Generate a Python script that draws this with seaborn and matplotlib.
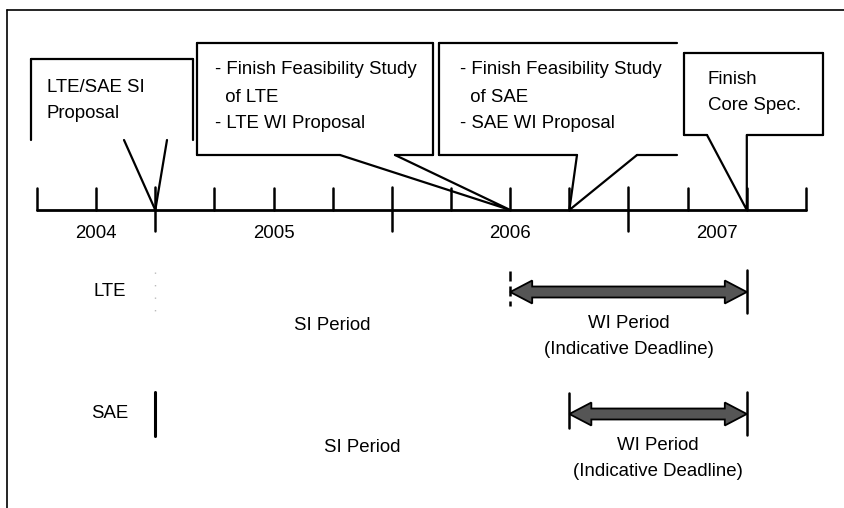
import numpy as np
import matplotlib
matplotlib.use("Agg")
import matplotlib.pyplot as plt
import seaborn as sns

sns.set_style("white")
plt.rcParams['font.family'] = ['Liberation Sans', 'DejaVu Sans']
plt.rcParams['text.color'] = 'black'

# --- data ---
year_labels = [2004, 2005, 2006, 2007]
axis_start, axis_end = 2004.5, 2007.75          # visible timeline (quarters)
event_dates = [2005.0, 2006.5, 2006.75, 2007.5]  # callout pointer tips
event_texts = [
    ["LTE/SAE SI", "Proposal"],
    ["- Finish Feasibility Study", "  of LTE", "- LTE WI Proposal"],
    ["- Finish Feasibility Study", "  of SAE", "- SAE WI Proposal"],
    ["Finish", "Core Spec."],
]
rows = ["LTE", "SAE"]
si_start = [2005.0, 2005.0]
wi_start = [2006.5, 2006.75]
wi_end = [2007.5, 2007.5]

# --- layout (pixel space, y grows downward) ---
W, H = 845, 508
PPY = 236.6            # pixels per year
X0PX = 37              # pixel x of axis_start
def px(xp):
    return axis_start + (xp - X0PX) / PPY

AXIS_Y = 210
ROW_Y = [292, 414]
FS = 13.4

fig = plt.figure(figsize=(W / 100, H / 100), dpi=100)
ax = fig.add_axes([0, 0, 1, 1])
ax.set_xlim(px(0), px(W))
ax.set_ylim(H, 0)
ax.axis('off')

K = 'black'
LW = 1.6

# outer frame (top + left)
ax.plot([px(7), px(W)], [10, 10], color=K, lw=1.2)
ax.plot([px(7), px(7)], [10, H], color=K, lw=1.2)

# timeline axis
ax.plot([axis_start, axis_end], [AXIS_Y, AXIS_Y], color=K, lw=2.0)
quarters = np.arange(axis_start, axis_end + 0.01, 0.25)
for q in quarters:
    if abs(q - round(q)) < 1e-6:
        ax.plot([q, q], [187, 231], color=K, lw=1.8)
    else:
        ax.plot([q, q], [188, AXIS_Y], color=K, lw=1.8)

for yr in year_labels:
    lo, hi = max(yr, axis_start), min(yr + 1, axis_end)
    ax.text((lo + hi) / 2, 233, str(yr), ha='center', va='center', fontsize=FS)

# callouts: box (x0, x1, y0, y1) px, pointer base px, text x px, sides
callouts = [
    dict(box=(31, 193, 59, 140), base=(124, 167), tx=47, ty=88, step=25,
         sides=('top', 'left', 'right')),
    dict(box=(197, 433, 43, 155), base=(340, 395), tx=215, ty=70, step=27,
         sides=('top', 'left', 'right', 'bottom')),
    dict(box=(439, 677, 43, 155), base=(577, 637), tx=460, ty=70, step=27,
         sides=('top', 'left', 'bottom')),
    dict(box=(684, 823, 53, 135), base=(707, None), tx=708, ty=80, step=25,
         sides=('top', 'left', 'right', 'bottom')),
]

for c, tip, lines in zip(callouts, event_dates, event_texts):
    x0, x1, y0, y1 = c['box']
    b0, b1 = c['base']
    bx0 = px(b0)
    bx1 = tip if b1 is None else px(b1)
    if 'top' in c['sides']:
        ax.plot([px(x0), px(x1)], [y0, y0], color=K, lw=LW)
    if 'left' in c['sides']:
        ax.plot([px(x0), px(x0)], [y0, y1], color=K, lw=LW)
    if 'right' in c['sides']:
        ax.plot([px(x1), px(x1)], [y0, y1], color=K, lw=LW)
    if 'bottom' in c['sides']:
        ax.plot([px(x0), bx0], [y1, y1], color=K, lw=LW)
        ax.plot([bx1, px(x1)], [y1, y1], color=K, lw=LW)
    ax.plot([bx0, tip, bx1], [y1, AXIS_Y, y1], color=K, lw=LW)
    for i, line in enumerate(lines):
        ax.text(px(c['tx']), c['ty'] + i * c['step'], line,
                ha='left', va='center', fontsize=FS)

# rows
hl = 22 / PPY
hw, sw = 11.5, 5.5
for i, name in enumerate(rows):
    y = ROW_Y[i]
    ax.text(px(110), y, name, ha='center', va='center', fontsize=FS)
    # SI start marker
    if i == 0:
        ax.plot([si_start[i]] * 2, [y - 20, y + 22], color='#bbbbbb', lw=1.0,
                ls=(0, (1, 8)))
    else:
        ax.plot([si_start[i]] * 2, [y - 22, y + 22], color=K, lw=2.2)
    ax.text((si_start[i] + wi_start[i]) / 2, y + 33, "SI Period",
            ha='center', va='center', fontsize=FS)
    # WI bars
    a, b = wi_start[i], wi_end[i]
    ax.plot([a, a], [y - 21, y + 14], color=K, lw=1.8,
            ls=(0, (4, 2)) if i == 0 else '-')
    ax.plot([b, b], [y - 22, y + 21], color=K, lw=1.8)
    xs = [a, a + hl, a + hl, b - hl, b - hl, b, b - hl, b - hl, a + hl, a + hl]
    ys = [y, y - hw, y - sw, y - sw, y - hw, y, y + hw, y + sw, y + sw, y + hw]
    ax.fill(xs, ys, facecolor='#555555', edgecolor=K, lw=1.3)
    mid = (a + b) / 2
    ax.text(mid, y + 31, "WI Period", ha='center', va='center', fontsize=FS)
    ax.text(mid, y + 57, "(Indicative Deadline)", ha='center', va='center',
            fontsize=FS)

fig.savefig("out.png", dpi=100)
